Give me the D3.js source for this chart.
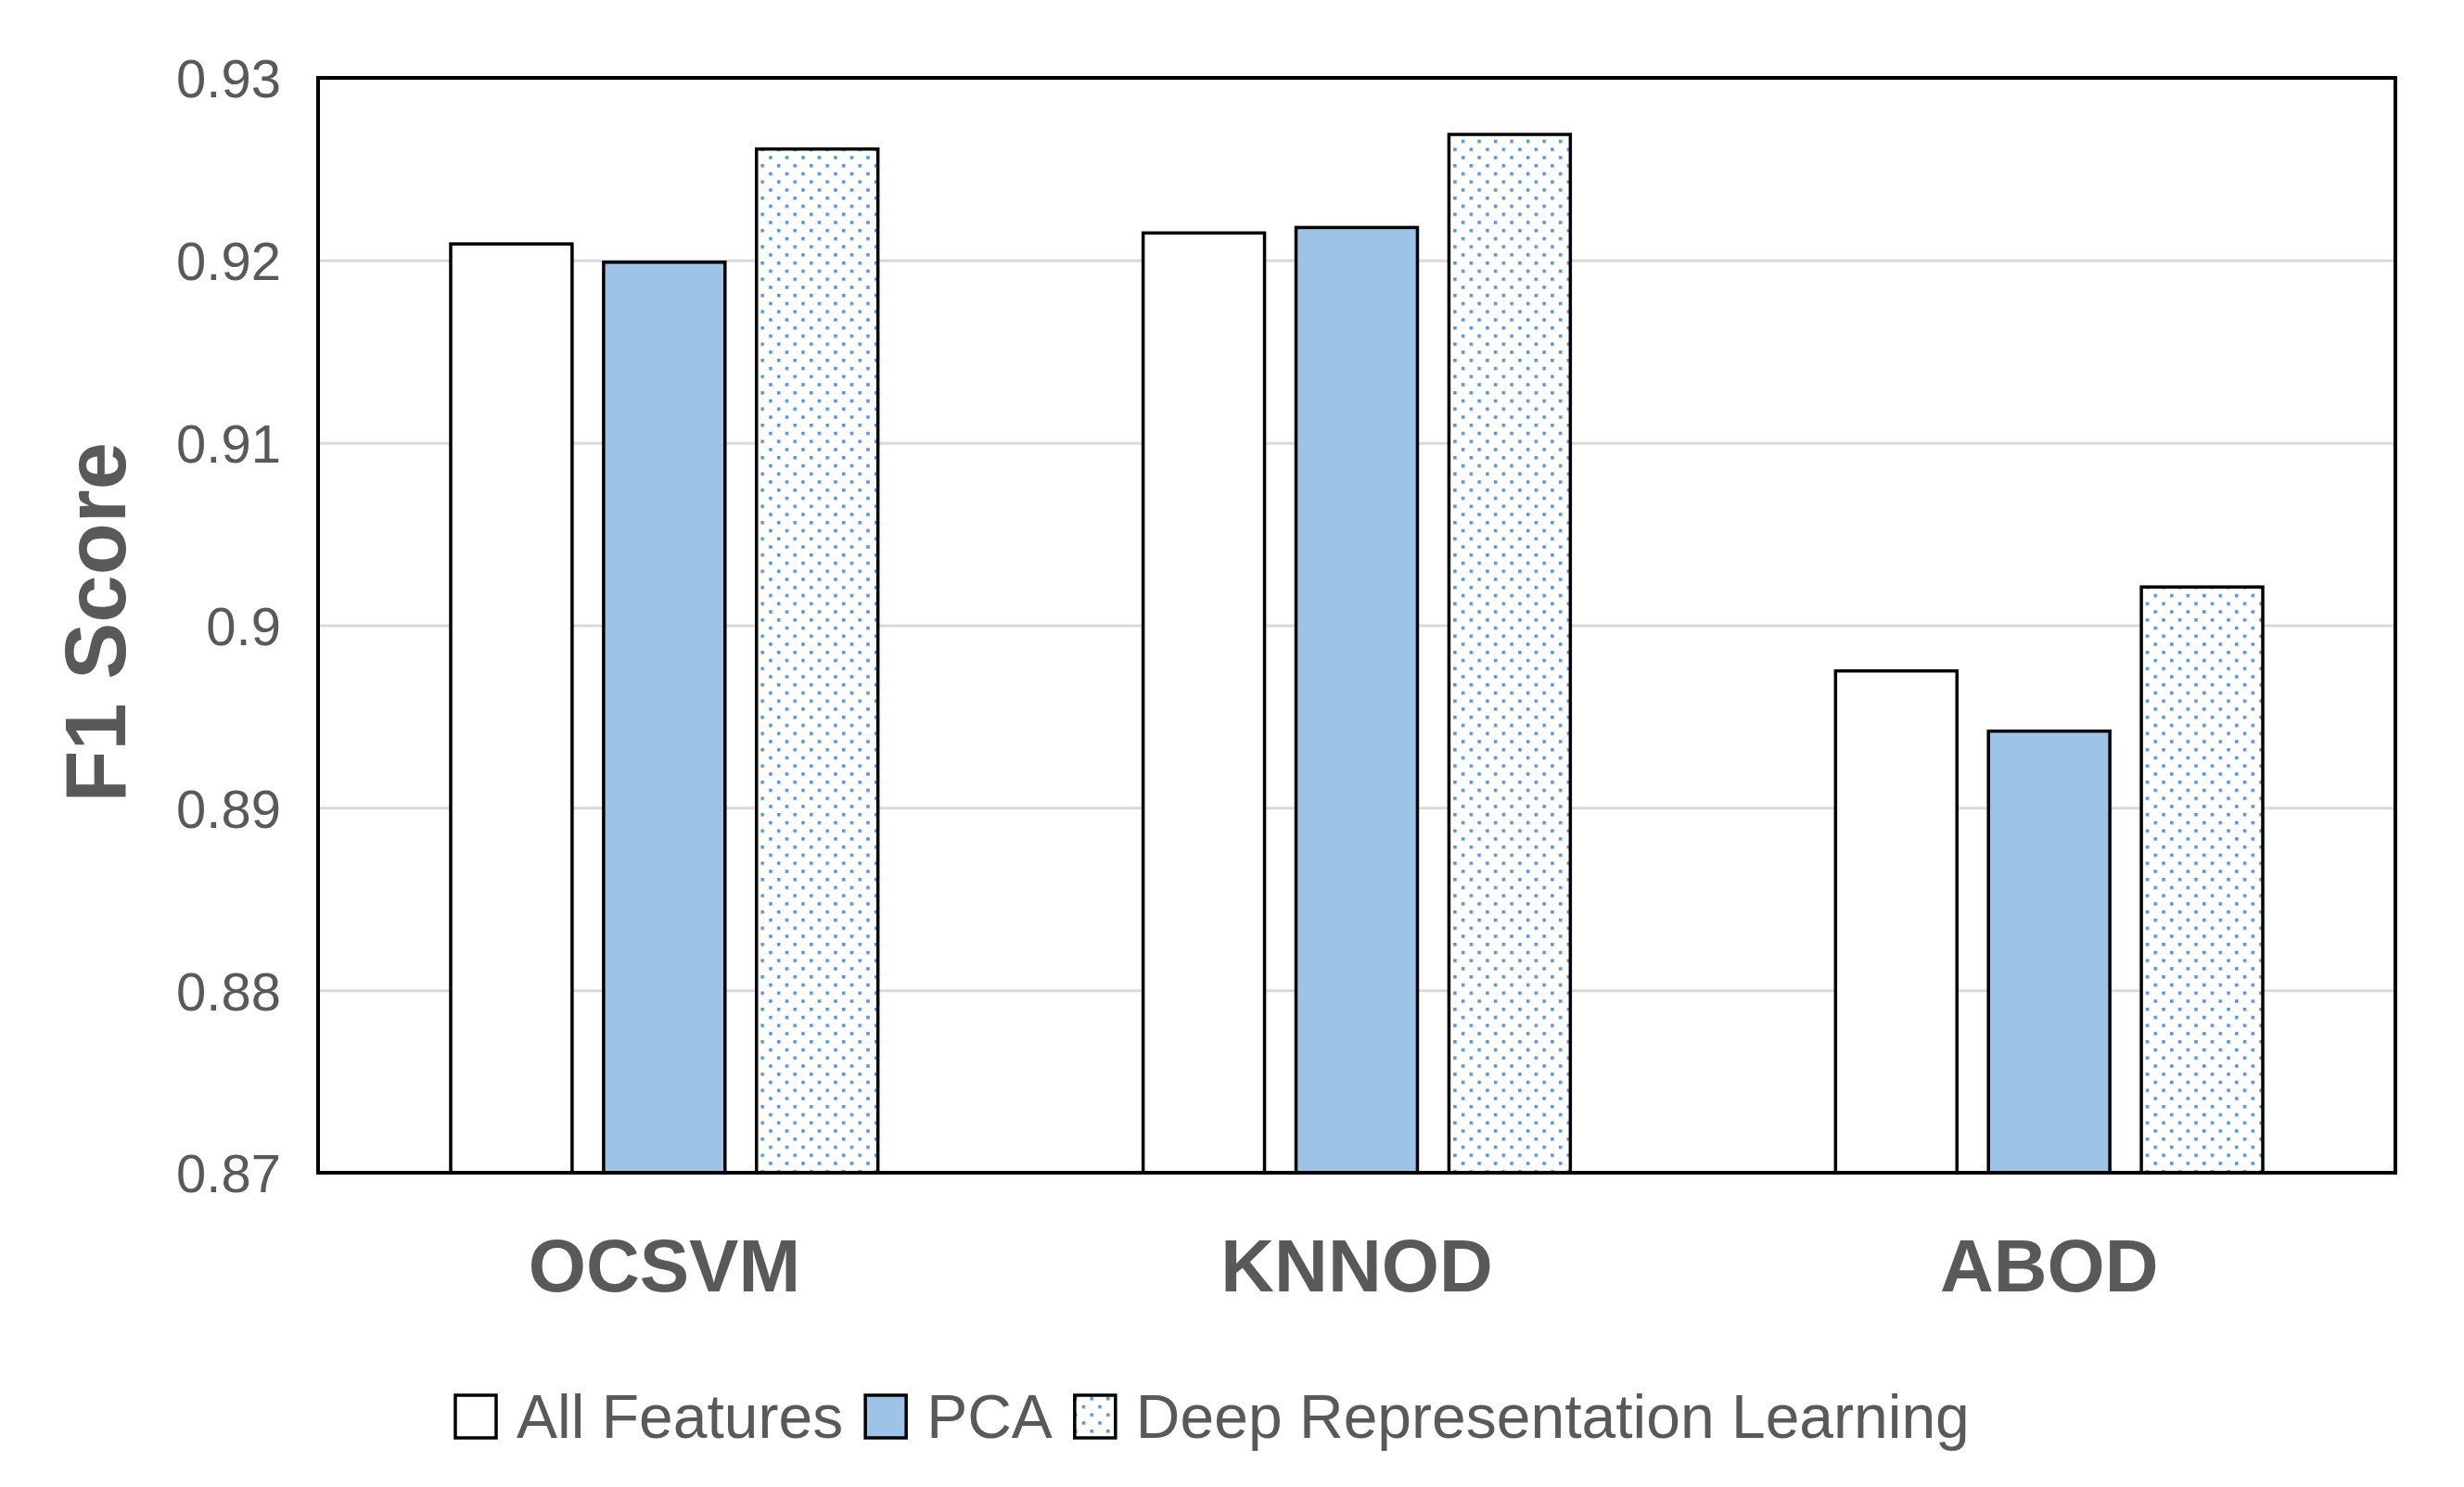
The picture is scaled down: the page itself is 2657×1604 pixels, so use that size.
<!DOCTYPE html>
<html>
<head>
<meta charset="utf-8">
<script src="https://cdn.jsdelivr.net/npm/d3@7/dist/d3.min.js"></script>
<style>
  html, body { margin: 0; padding: 0; background: #fff; }
  svg { display: block; }
  text { font-family: "Liberation Sans", Arial, sans-serif; }
</style>
</head>
<body>
<svg id="chart" width="2657" height="1604"></svg>
<script>
// ---- data ----
const categories = ["OCSVM", "KNNOD", "ABOD"];
const seriesNames = ["All Features", "PCA", "Deep Representation Learning"];
const allFeatures = [0.9209, 0.9215, 0.8975];
const pca = [0.9199, 0.9218, 0.8942];
const deepRep = [0.9261, 0.9269, 0.9021];
const yTicks = [0.87, 0.88, 0.89, 0.9, 0.91, 0.92, 0.93];
const yTickLabels = ["0.87", "0.88", "0.89", "0.9", "0.91", "0.92", "0.93"];
const yTitle = "F1 Score";

const seriesValues = [allFeatures, pca, deepRep];
const rows = categories.map((c, i) => ({
  cat: c,
  vals: seriesNames.map((s, j) => ({ series: s, idx: j, value: seriesValues[j][i] }))
}));

// ---- layout ----
const svg = d3.select("#chart");
const plot = { left: 343, right: 2583, top: 84, bottom: 1265 };
const textColor = "#595959";
const pcaFill = "#9DC3E6";
const dotColor = "#4F93D6";

const defs = svg.append("defs");
const pat = defs.append("pattern")
  .attr("id", "dots")
  .attr("patternUnits", "userSpaceOnUse")
  .attr("width", 17.5).attr("height", 17.5);
pat.append("rect").attr("width", 17.5).attr("height", 17.5).attr("fill", "#fff");
pat.append("rect").attr("x", 2).attr("y", 2).attr("width", 3.5).attr("height", 3.5).attr("fill", dotColor);
pat.append("rect").attr("x", 10.75).attr("y", 10.75).attr("width", 3.5).attr("height", 3.5).attr("fill", dotColor);

const fills = ["#ffffff", pcaFill, "url(#dots)"];

const y = d3.scaleLinear().domain([0.87, 0.93]).range([plot.bottom, plot.top]);
const x0 = d3.scaleBand().domain(categories).range([plot.left, plot.right])
  .paddingInner(0.383).paddingOuter(0.1915);
const x1 = d3.scaleBand().domain(seriesNames).range([0, x0.bandwidth()])
  .paddingInner(0.206).paddingOuter(0);

// gridlines
const yAxisGrid = d3.axisLeft(y).tickValues(yTicks)
  .tickSize(-(plot.right - plot.left)).tickFormat("");
const grid = svg.append("g")
  .attr("transform", `translate(${plot.left},0)`)
  .call(yAxisGrid);
grid.select(".domain").remove();
grid.selectAll(".tick line").attr("stroke", "#d9d9d9").attr("stroke-width", 3);

// tick labels
const yAxis = d3.axisLeft(y).tickValues(yTicks)
  .tickSize(0).tickPadding(0)
  .tickFormat((d, i) => yTickLabels[i]);
const ya = svg.append("g")
  .attr("transform", `translate(303,0)`)
  .call(yAxis);
ya.select(".domain").remove();
ya.selectAll(".tick text")
  .attr("fill", textColor)
  .attr("font-size", 58)
  .attr("font-family", "Liberation Sans, Arial, sans-serif")
  .attr("dy", "0.36em");

// bars
const groups = svg.append("g").selectAll("g")
  .data(rows).join("g")
  .attr("transform", d => `translate(${x0(d.cat)},0)`);
groups.selectAll("rect")
  .data(d => d.vals).join("rect")
  .attr("x", d => x1(d.series))
  .attr("width", x1.bandwidth())
  .attr("y", d => y(d.value))
  .attr("height", d => y(0.87) - y(d.value))
  .attr("fill", d => fills[d.idx])
  .attr("stroke", "#000")
  .attr("stroke-width", 3.5);

// plot frame
svg.append("rect")
  .attr("x", plot.left).attr("y", plot.top)
  .attr("width", plot.right - plot.left)
  .attr("height", plot.bottom - plot.top)
  .attr("fill", "none").attr("stroke", "#000").attr("stroke-width", 4);

// category axis
const xAxis = d3.axisBottom(x0).tickSize(0).tickPadding(0);
const xa = svg.append("g")
  .attr("transform", `translate(0,${plot.bottom})`)
  .call(xAxis);
xa.select(".domain").remove();
xa.selectAll(".tick text")
  .attr("fill", textColor)
  .attr("font-size", 80)
  .attr("font-weight", "bold")
  .attr("font-family", "Liberation Sans, Arial, sans-serif")
  .attr("dy", 0)
  .attr("y", 1393 - plot.bottom);

// y title
svg.append("text")
  .attr("transform", `translate(135,${(plot.top + plot.bottom) / 2 - 3}) rotate(-90)`)
  .attr("text-anchor", "middle")
  .attr("fill", textColor)
  .attr("font-size", 92)
  .attr("font-weight", "bold")
  .text(yTitle);

// legend
const legend = svg.append("g");
const legendBaseline = 1551;
const boxW = 44, boxH = 46, boxGap = 22, itemGap = 24;
let cx = 0;
seriesNames.forEach((s, i) => {
  const g = legend.append("g");
  g.append("rect")
    .attr("x", cx).attr("y", legendBaseline - boxH)
    .attr("width", boxW).attr("height", boxH)
    .attr("fill", fills[i]).attr("stroke", "#000").attr("stroke-width", 3.5);
  const t = g.append("text")
    .attr("x", cx + boxW + boxGap).attr("y", legendBaseline)
    .attr("fill", textColor).attr("font-size", 66)
    .text(s);
  const w = t.node().getComputedTextLength();
  cx += boxW + boxGap + w + itemGap;
});
legend.attr("transform", `translate(${491},0)`);
</script>
</body>
</html>
